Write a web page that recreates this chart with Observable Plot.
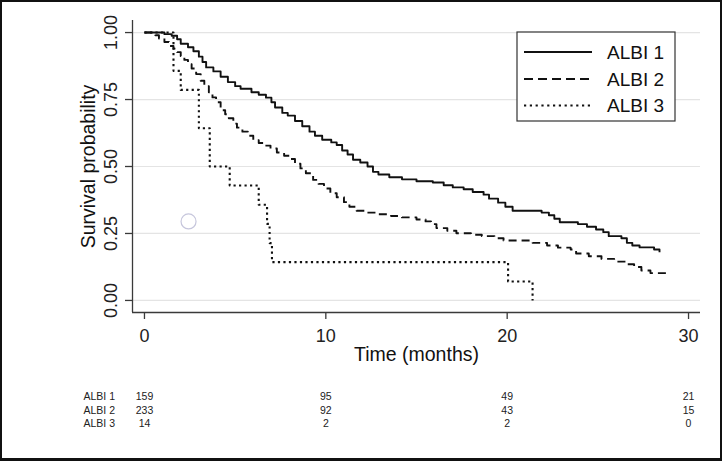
<!DOCTYPE html>
<html>
<head>
<meta charset="utf-8">
<script src="https://cdn.jsdelivr.net/npm/d3@7"></script>
<script src="https://cdn.jsdelivr.net/npm/@observablehq/plot@0.6"></script>
<style>
  html, body { margin: 0; padding: 0; background: #fff; }
  #wrap { position: relative; width: 722px; height: 461px; overflow: hidden; }
  #border { position: absolute; left: 0; top: 0; width: 722px; height: 461px; box-sizing: border-box;
            border-style: solid; border-color: #111; border-width: 2px 2px 3px 2px; pointer-events: none; }
  #legend { position: absolute; left: 0; top: 0; }
</style>
</head>
<body>
<div id="wrap"><div id="chart"></div><svg id="legend" width="722" height="461"></svg><div id="border"></div></div>
<script>
// ---- data ----
const names = ["ALBI 1", "ALBI 2", "ALBI 3"];

const time1 = [0, 1.1, 1.5, 1.8, 2.0, 2.4, 2.7, 3.0, 3.2, 3.4, 3.8, 4.2, 4.6, 5.0, 5.3, 5.9, 6.3, 6.7, 7.0, 7.2,
  7.6, 7.9, 8.3, 8.7, 9.1, 9.4, 9.8, 10.3, 10.6, 10.9, 11.2, 11.5, 11.9, 12.3, 12.6, 12.9, 13.5, 14.2, 15.0, 15.9,
  16.5, 17.0, 17.6, 18.1, 18.7, 19.0, 19.5, 19.9, 20.3, 21.9, 22.3, 22.6, 22.9, 23.9, 24.4, 24.9, 25.3, 25.6, 26.3,
  26.6, 26.9, 27.3, 28.1, 28.4];
const surv1 = [1, 0.994, 0.988, 0.975, 0.958, 0.945, 0.93, 0.91, 0.89, 0.87, 0.855, 0.835, 0.815, 0.80, 0.79, 0.777,
  0.768, 0.757, 0.74, 0.72, 0.70, 0.69, 0.67, 0.65, 0.63, 0.615, 0.60, 0.59, 0.58, 0.56, 0.545, 0.525, 0.515, 0.50,
  0.48, 0.47, 0.46, 0.452, 0.445, 0.44, 0.43, 0.422, 0.415, 0.405, 0.395, 0.38, 0.365, 0.35, 0.335, 0.328, 0.318,
  0.305, 0.292, 0.285, 0.275, 0.265, 0.255, 0.24, 0.232, 0.215, 0.205, 0.198, 0.19, 0.18];

const time2 = [0, 0.6, 0.8, 1.1, 1.35, 1.6, 1.8, 2.0, 2.2, 2.4, 2.6, 2.85, 3.1, 3.3, 3.55, 3.75, 3.95, 4.2, 4.45,
  4.65, 4.9, 5.1, 5.4, 5.7, 6.0, 6.3, 6.6, 6.95, 7.3, 7.7, 8.0, 8.3, 8.6, 8.9, 9.3, 9.6, 9.9, 10.25, 10.6, 11.0,
  11.3, 11.7, 12.2, 12.9, 13.6, 14.2, 15.0, 15.5, 15.8, 16.1, 16.7, 17.2, 18.0, 18.6, 19.3, 19.8, 21.4, 22.2, 22.8,
  23.5, 23.8, 24.5, 25.2, 25.9, 26.6, 27.0, 27.4, 27.9, 29.0];
const surv2 = [1, 0.99, 0.978, 0.965, 0.95, 0.94, 0.927, 0.912, 0.898, 0.882, 0.866, 0.845, 0.82, 0.80, 0.777, 0.758,
  0.74, 0.71, 0.695, 0.68, 0.66, 0.645, 0.63, 0.615, 0.598, 0.588, 0.578, 0.567, 0.552, 0.54, 0.528, 0.51, 0.493,
  0.475, 0.45, 0.435, 0.418, 0.40, 0.385, 0.367, 0.35, 0.335, 0.328, 0.322, 0.315, 0.31, 0.302, 0.295, 0.285, 0.27,
  0.26, 0.251, 0.245, 0.24, 0.232, 0.224, 0.215, 0.205, 0.197, 0.19, 0.175, 0.165, 0.155, 0.145, 0.135, 0.125, 0.112,
  0.102, 0.102];

const time3 = [0, 1.6, 2.0, 3.0, 3.6, 4.7, 6.3, 6.76, 6.9, 7.03, 20.05, 21.4];
const surv3 = [1, 0.857, 0.786, 0.643, 0.5, 0.429, 0.357, 0.286, 0.214, 0.143, 0.071, 0.0];

const riskTimes = [0, 10, 20, 30];
const risk1 = [159, 95, 49, 21];
const risk2 = [233, 92, 43, 15];
const risk3 = [14, 2, 2, 0];

const xTicks = [0, 10, 20, 30];
const yTicks = [0, 0.25, 0.5, 0.75, 1];
const markerT = [2.43];
const markerS = [0.295];

const xTitle = "Time (months)";
const yTitle = "Survival probability";

// ---- build ----
const times = [time1, time2, time3];
const survs = [surv1, surv2, surv3];
const risks = [risk1, risk2, risk3];
const curves = names.map((name, i) => times[i].map((t, j) => ({name, t, s: survs[i][j]})));
const riskRows = names.map((name, i) => riskTimes.map((t, j) => ({name, t, n: risks[i][j]})));
const marker = markerT.map((t, i) => ({t, s: markerS[i]}));

const xDomain = [-0.66, 30.66];
const yDomain = [-0.045, 1.045];
const dashes = [null, "8,5", "2.2,3.3"];
const widths = [1.9, 1.9, 2.1];
const ink = "#111";
const axisInk = "#3a3a3a";
const rowDy = [84, 98, 111];

const marks = [
  Plot.gridY(yTicks, {stroke: "#e4e4e4", strokeOpacity: 1, strokeWidth: 1.2}),
  Plot.ruleX([xDomain[0]], {stroke: axisInk, strokeWidth: 1.3}),
  Plot.ruleY([yDomain[0]], {stroke: axisInk, strokeWidth: 1.3}),
  Plot.axisY({ticks: yTicks, tickSize: 7, tickFormat: () => "", label: null, stroke: axisInk, strokeWidth: 1.3}),
  Plot.axisX({ticks: xTicks, tickSize: 7, tickFormat: () => "", label: null, stroke: axisInk, strokeWidth: 1.3}),
  Plot.text(yTicks, {y: d => d, text: d => d3.format(".2f")(d), frameAnchor: "left", dx: -21.5, rotate: -90,
    textAnchor: "middle", lineAnchor: "middle", fontSize: 18, fill: "#222"}),
  Plot.text(xTicks, {x: d => d, text: d => String(d), frameAnchor: "bottom", dy: 24,
    textAnchor: "middle", lineAnchor: "middle", fontSize: 18, fill: "#222"}),
  Plot.text([yTitle], {text: d => d, frameAnchor: "left", dx: -44, rotate: -90, textAnchor: "middle",
    lineAnchor: "middle", fontSize: 19.5, fill: "#111"}),
  Plot.text([xTitle], {text: d => d, frameAnchor: "bottom", dy: 42, textAnchor: "middle",
    lineAnchor: "middle", fontSize: 19.5, fill: "#111"}),
  Plot.dot(marker, {x: "t", y: "s", r: 7.5, stroke: "#c6c6dc", strokeWidth: 1.2, fill: "none"}),
  ...curves.map((c, i) => Plot.line(c, {x: "t", y: "s", curve: "step-after", stroke: ink, strokeWidth: widths[i],
    strokeDasharray: dashes[i], strokeLinecap: "butt"})),
  ...riskRows.map((rows, i) => Plot.text(rows, {x: "t", text: d => String(d.n), frameAnchor: "bottom", dy: rowDy[i],
    textAnchor: "middle", lineAnchor: "middle", fontSize: 10.5, fill: "#222"})),
  ...names.map((name, i) => Plot.text([name], {text: d => d, frameAnchor: "bottom-left", dx: -49, dy: rowDy[i],
    textAnchor: "start", lineAnchor: "middle", fontSize: 10.5, fill: "#222"}))
];

const chart = Plot.plot({
  width: 722,
  height: 461,
  marginLeft: 132,
  marginRight: 22,
  marginTop: 20,
  marginBottom: 149,
  x: {domain: xDomain},
  y: {domain: yDomain},
  style: {fontFamily: "'Liberation Sans', Arial, Helvetica, sans-serif", background: "#fff", overflow: "visible"},
  marks
});
document.getElementById("chart").appendChild(chart);

// ---- legend ----
const lg = d3.select("#legend");
const box = {x: 517, y: 32, w: 158, h: 89};
lg.append("rect").attr("x", box.x).attr("y", box.y).attr("width", box.w).attr("height", box.h)
  .attr("fill", "#fff").attr("stroke", "#333").attr("stroke-width", 1.2);
const rowY = [52, 79, 105.5];
names.forEach((name, i) => {
  lg.append("line").attr("x1", 524).attr("x2", 592).attr("y1", rowY[i]).attr("y2", rowY[i])
    .attr("stroke", ink).attr("stroke-width", widths[i])
    .attr("stroke-dasharray", i === 0 ? null : (i === 1 ? "9,5" : "2.2,3.6"));
  lg.append("text").attr("x", 607).attr("y", rowY[i]).attr("dy", "0.35em")
    .attr("font-family", "'Liberation Sans', Arial, sans-serif").attr("font-size", 19).attr("fill", "#111")
    .text(name);
});
</script>
</body>
</html>
